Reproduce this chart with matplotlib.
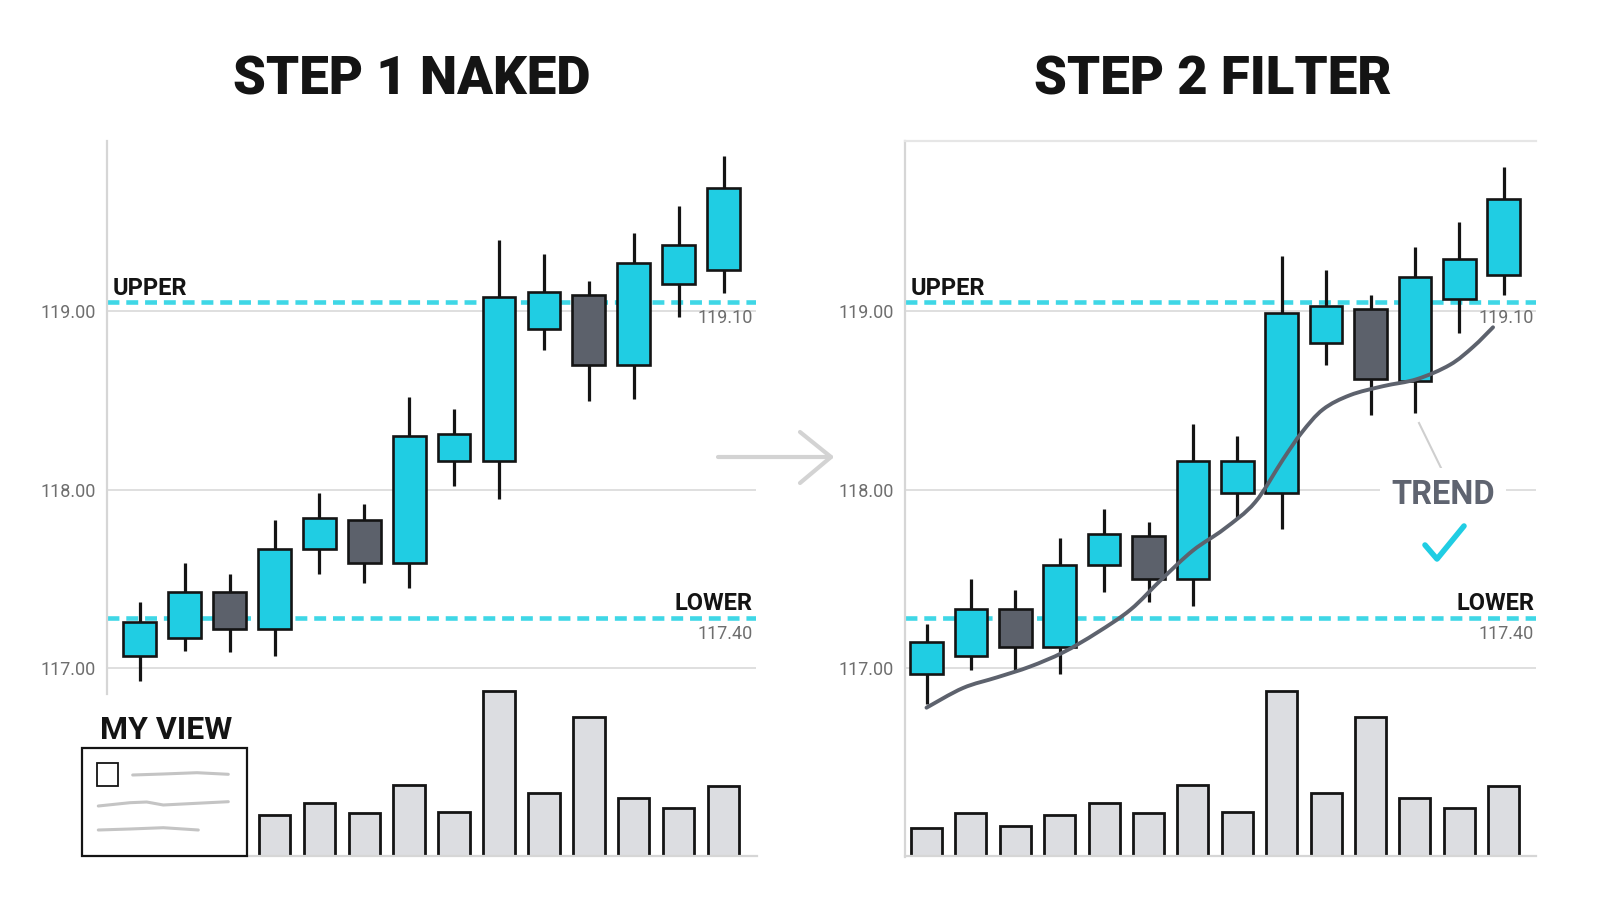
import matplotlib
matplotlib.use("Agg")
import matplotlib.pyplot as plt
from matplotlib.lines import Line2D
from matplotlib.patches import Rectangle, PathPatch
from matplotlib.path import Path

W, H = 1600, 914

# ---- data ----
left_open = [117.07, 117.17, 117.43, 117.22, 117.67, 117.83, 117.59, 118.16, 118.16, 118.90, 119.09, 118.70, 119.15, 119.23]
left_close = [117.26, 117.43, 117.22, 117.67, 117.84, 117.59, 118.30, 118.31, 119.08, 119.11, 118.70, 119.27, 119.37, 119.69]
left_high = [117.37, 117.59, 117.53, 117.83, 117.98, 117.92, 118.52, 118.45, 119.40, 119.32, 119.17, 119.44, 119.59, 119.87]
left_low = [116.93, 117.10, 117.09, 117.07, 117.53, 117.48, 117.45, 118.02, 117.95, 118.78, 118.50, 118.51, 118.97, 119.10]

right_open = [116.97, 117.07, 117.33, 117.12, 117.58, 117.74, 117.50, 117.98, 117.98, 118.82, 119.01, 118.61, 119.07, 119.20]
right_close = [117.15, 117.33, 117.12, 117.58, 117.75, 117.50, 118.16, 118.16, 118.99, 119.03, 118.62, 119.19, 119.29, 119.63]
right_high = [117.25, 117.50, 117.44, 117.73, 117.89, 117.82, 118.37, 118.30, 119.31, 119.23, 119.09, 119.36, 119.50, 119.81]
right_low = [116.80, 116.99, 116.99, 116.97, 117.43, 117.37, 117.35, 117.84, 117.78, 118.70, 118.42, 118.43, 118.88, 119.09]

volume = [27, 42, 29, 40, 52, 42, 70, 43, 162, 62, 136, 57, 47, 69]

trend_x = [0.0, 0.82, 1.59, 2.33, 3.08, 3.84, 4.60, 5.30, 6.00, 6.70, 7.40, 8.03, 8.45,
           8.93, 9.54, 10.28, 11.05, 11.79, 12.31, 12.76]
trend_y = [116.78, 116.89, 116.95, 117.01, 117.09, 117.20, 117.33, 117.50, 117.66, 117.78,
           117.93, 118.17, 118.32, 118.45, 118.53, 118.58, 118.62, 118.70, 118.80, 118.91]

upper_level = 119.05
lower_level = 117.28
upper_text = "119.10"
lower_text = "117.40"
yticks = [117.0, 118.0, 119.0]

CYAN = "#20cde3"
DASH = "#3fd7e6"
DARK = "#5c616b"
INK = "#141414"
GRID = "#dcdcdc"
VOLFILL = "#dcdde1"
TITLE_FONT = ["Roboto", "DejaVu Sans"]
NUM_FONT = ["Roboto", "DejaVu Sans"]


def fx(x):
    return x / W


def fy(y):
    return 1 - y / H


def add_ax(fig, x0, x1, y0, y1):
    ax = fig.add_axes([fx(x0), fy(y1), (x1 - x0) / W, (y1 - y0) / H])
    ax.patch.set_alpha(0)
    for s in ax.spines.values():
        s.set_visible(False)
    return ax


def fig_line(fig, xs, ys, **kw):
    fig.add_artist(Line2D([fx(x) for x in xs], [fy(y) for y in ys], **kw))


def smooth_path(xs, ys):
    # catmull-rom through the points, drawn as bezier segments
    pts = list(zip(xs, ys))
    verts = [pts[0]]
    codes = [Path.MOVETO]
    n = len(pts)
    for i in range(n - 1):
        p0 = pts[max(i - 1, 0)]
        p1 = pts[i]
        p2 = pts[i + 1]
        p3 = pts[min(i + 2, n - 1)]
        c1 = (p1[0] + (p2[0] - p0[0]) / 6, p1[1] + (p2[1] - p0[1]) / 6)
        c2 = (p2[0] - (p3[0] - p1[0]) / 6, p2[1] - (p3[1] - p1[1]) / 6)
        verts += [c1, c2, p2]
        codes += [Path.CURVE4] * 3
    return Path(verts, codes)


def draw_candles(ax, o, c, h, l):
    for i in range(len(o)):
        col = CYAN if c[i] >= o[i] else DARK
        ax.vlines(i, l[i], h[i], color=INK, lw=2.3, zorder=3)
        ax.add_patch(Rectangle((i - 0.365, min(o[i], c[i])), 0.73, abs(c[i] - o[i]),
                               fc=col, ec=INK, lw=1.9, zorder=4))


def price_panel(fig, x0, x1, first_x, step, o, c, h, l):
    # y: 119 at px 311.2, 117 at px 668.4
    y_top, y_bot = 141, 714
    ax = add_ax(fig, x0, x1, y_top, y_bot)
    ax.set_xlim((x0 - first_x) / step, (x1 - first_x) / step)
    ax.set_ylim(117 + (668.4 - y_bot) / 178.6, 117 + (668.4 - y_top) / 178.6)
    ax.set_xticks([])
    ax.set_yticks(yticks)
    ax.set_yticklabels([f"{t:.2f}" for t in yticks], family=NUM_FONT, fontsize=13,
                       color="#6e6e6e")
    ax.tick_params(axis="y", length=0, pad=8)
    for t in yticks:
        ax.axhline(t, color=GRID, lw=1.3, zorder=1)
    for lev in (upper_level, lower_level):
        ax.axhline(lev, color=DASH, lw=3.3, dashes=(2.6, 1.5), dash_capstyle="butt", zorder=2)
    draw_candles(ax, o, c, h, l)
    return ax


def volume_panel(fig, x0, x1, first_x, step, start):
    ax = add_ax(fig, x0, x1, 673, 856)
    ax.set_xlim((x0 - first_x) / step, (x1 - first_x) / step)
    ax.set_ylim(0, 179.3)
    ax.set_xticks([])
    ax.set_yticks([])
    idx = list(range(start, len(volume)))
    ax.bar(idx, volume[start:], width=0.7, color=VOLFILL, edgecolor=INK, lw=2.0, zorder=3)
    return ax


fig = plt.figure(figsize=(16, 9.14), dpi=100)
fig.patch.set_facecolor("white")

# ---- left panel ----
volume_panel(fig, 107, 756, 139.8, 44.9, 3)
axl = price_panel(fig, 107, 756, 139.8, 44.9, left_open, left_close, left_high, left_low)
fig_line(fig, [107, 107], [141, 694], color="#d6d6d6", lw=1.6)
fig_line(fig, [247, 757], [856, 856], color="#d6d6d6", lw=1.6)

# ---- right panel ----
volume_panel(fig, 905, 1536, 926.5, 44.4, 0)
axr = price_panel(fig, 905, 1536, 926.5, 44.4, right_open, right_close, right_high, right_low)
axr.add_patch(PathPatch(smooth_path(trend_x, trend_y), fill=False, ec="#5d626d", lw=2.8,
                        capstyle="round", zorder=6))
fig_line(fig, [905, 905], [141, 857], color="#d6d6d6", lw=1.6)
fig_line(fig, [905, 1536], [141, 141], color="#e6e6e6", lw=1.6)
fig_line(fig, [905, 1536], [856, 856], color="#d6d6d6", lw=1.6)

# ---- titles ----
fig.text(fx(412), fy(80), "STEP 1 NAKED", family=TITLE_FONT, weight="heavy", fontsize=38,
         ha="center", va="center", color=INK)
fig.text(fx(1213), fy(80), "STEP 2 FILTER", family=TITLE_FONT, weight="heavy", fontsize=38,
         ha="center", va="center", color=INK)

# ---- level labels ----
for left_x, right_x in ((113, 753), (911, 1534)):
    fig.text(fx(left_x), fy(295), "UPPER", family=TITLE_FONT, weight="bold", fontsize=17,
             ha="left", va="baseline", color=INK)
    fig.text(fx(right_x), fy(610), "LOWER", family=TITLE_FONT, weight="bold", fontsize=17,
             ha="right", va="baseline", color=INK)
    fig.text(fx(right_x), fy(318), upper_text, family=NUM_FONT, fontsize=13,
             ha="right", va="center", color="#6e6e6e", zorder=5)
    fig.text(fx(right_x), fy(634), lower_text, family=NUM_FONT, fontsize=13,
             ha="right", va="center", color="#6e6e6e")

# ---- arrow between panels ----
fig_line(fig, [718, 831], [457, 457], color="#d3d3d3", lw=3, solid_capstyle="round")
fig_line(fig, [800, 831, 800], [432, 457, 483], color="#d3d3d3", lw=3,
         solid_capstyle="round", solid_joinstyle="round")

# ---- TREND callout ----
fig_line(fig, [1419, 1443], [423, 472], color="#cfcfcf", lw=1.5)
fig.text(fx(1443), fy(495), "TREND", family=TITLE_FONT, weight="bold", fontsize=23.5,
         ha="center", va="center", color="#5f6470",
         bbox=dict(fc="white", ec="none", pad=8))
fig_line(fig, [1425, 1437, 1464], [545, 559, 526], color=CYAN, lw=4,
         solid_capstyle="round", solid_joinstyle="round")

# ---- MY VIEW note ----
fig.text(fx(100), fy(739), "MY VIEW", family=TITLE_FONT, weight="bold", fontsize=23,
         ha="left", va="baseline", color=INK)
fig.add_artist(Rectangle((fx(81.7), fy(855.7)), (246.7 - 81.7) / W, (855.7 - 747.7) / H,
                         fc="white", ec=INK, lw=1.6, zorder=5))
fig.add_artist(Rectangle((fx(96.7), fy(785.7)), (118.3 - 96.7) / W, (785.7 - 763.3) / H,
                         fc="white", ec=INK, lw=1.3, zorder=6))
scribbles = [
    ([132.7, 163, 197, 228.3], [775, 774, 772.7, 774.3]),
    ([98.3, 130, 146.7, 163.3, 196.7, 228.3], [806, 802.7, 802, 805, 803.3, 801.7]),
    ([98.3, 130, 163.3, 198.3], [830, 829, 827.7, 830]),
]
for xs, ys in scribbles:
    fig_line(fig, xs, ys, color="#c4c4c4", lw=2.2, solid_capstyle="round", zorder=6)

fig.savefig("out.png", dpi=100, facecolor="white")
